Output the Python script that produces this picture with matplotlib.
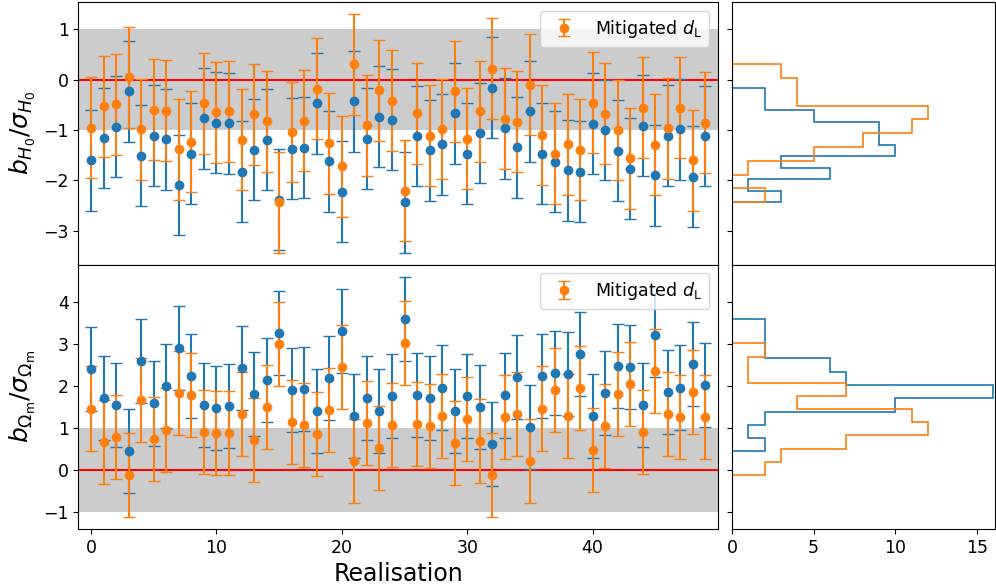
import numpy as np
import matplotlib
matplotlib.use("Agg")
import matplotlib.pyplot as plt

# Bias / sigma per realisation, standard and mitigated d_L
realisation = np.arange(50)

bias_h0_standard = [
    -1.60, -1.16, -0.94, -0.23, -1.51, -1.11, -1.18, -2.09, -1.47, -0.77,
    -0.86, -0.87, -1.83, -1.39, -1.19, -2.38, -1.37, -1.35, -0.47, -1.62,
    -2.22, -0.43, -1.17, -0.74, -0.80, -2.43, -1.12, -1.40, -1.28, -0.67,
    -1.47, -1.06, -0.16, -0.97, -1.34, -0.63, -1.47, -1.63, -1.80, -1.83,
    -0.88, -1.00, -1.41, -1.77, -0.92, -1.90, -1.11, -0.99, -1.93, -1.12,
]
bias_h0_mitigated = [
    -0.96, -0.53, -0.49, 0.04, -0.99, -0.60, -0.62, -1.38, -1.23, -0.47,
    -0.65, -0.63, -1.19, -0.69, -0.83, -2.43, -1.04, -0.82, -0.18, -1.26,
    -1.72, 0.30, -0.91, -0.21, -0.42, -2.20, -0.67, -1.11, -0.98, -0.23,
    -1.17, -0.63, 0.21, -0.78, -0.84, -0.10, -1.10, -1.47, -1.28, -1.39,
    -0.46, -0.68, -1.00, -1.56, -0.56, -1.29, -0.97, -0.56, -1.60, -0.86,
]

bias_om_standard = [
    2.41, 1.73, 1.55, 0.45, 2.61, 1.59, 2.01, 2.91, 2.25, 1.55,
    1.48, 1.52, 2.44, 1.81, 2.15, 3.26, 1.90, 1.93, 1.42, 2.20,
    3.31, 1.30, 1.73, 1.42, 1.77, 3.61, 1.79, 1.73, 1.97, 1.42,
    1.77, 1.50, 0.62, 1.78, 2.22, 1.03, 2.24, 2.32, 2.29, 2.77,
    1.30, 1.85, 2.48, 2.46, 1.56, 3.22, 1.87, 1.97, 2.53, 2.02,
]
bias_om_mitigated = [
    1.47, 0.68, 0.79, -0.11, 1.67, 0.75, 0.97, 1.85, 1.79, 0.92,
    0.88, 0.88, 1.34, 0.73, 1.50, 3.00, 1.16, 1.07, 0.87, 1.43,
    2.46, 0.23, 1.12, 0.54, 1.07, 3.02, 1.11, 1.05, 1.29, 0.66,
    1.21, 0.69, -0.11, 1.27, 1.34, 0.22, 1.47, 1.91, 1.30, 1.95,
    0.48, 1.05, 1.81, 2.06, 0.91, 2.36, 1.34, 1.27, 1.87, 1.26,
]

err = 1.0  # errors are in units of sigma

fs_tick = 12.5
plt.rcParams['font.size'] = fs_tick

fig = plt.figure(figsize=(9.96, 5.87), dpi=100)

L, R_main, L_hist, R_hist = 0.0788, 0.7209, 0.7349, 0.999
top, mid, bot = 0.9966, 0.5494, 0.0988

ax1 = fig.add_axes([L, mid, R_main - L, top - mid])
ax2 = fig.add_axes([L, bot, R_main - L, mid - bot], sharex=ax1)
ax1h = fig.add_axes([L_hist, mid, R_hist - L_hist, top - mid], sharey=ax1)
ax2h = fig.add_axes([L_hist, bot, R_hist - L_hist, mid - bot], sharey=ax2, sharex=ax1h)

panels = [
    (ax1, ax1h, bias_h0_standard, bias_h0_mitigated, r'$b_{H_0}/\sigma_{H_0}$'),
    (ax2, ax2h, bias_om_standard, bias_om_mitigated,
     r'$b_{\Omega_\mathrm{m}}/\sigma_{\Omega_\mathrm{m}}$'),
]

for ax, axh, std, mit, ylab in panels:
    ax.axhspan(-1, 1, color='grey', alpha=0.4, lw=0)
    ax.axhline(0, color='r', lw=1.5)
    ax.errorbar(realisation, std, yerr=err, fmt='o', color='C0', capsize=4.5)
    ax.errorbar(realisation, mit, yerr=err, fmt='o', color='C1', capsize=4.5,
                label=r'Mitigated $d_\mathrm{L}$')
    ax.set_ylabel(ylab, fontsize=18)
    ax.legend(loc='upper right', fontsize=fs_tick)

    axh.hist(std, bins=10, histtype='step', orientation='horizontal', color='C0', lw=1.2)
    axh.hist(mit, bins=10, histtype='step', orientation='horizontal', color='C1', lw=1.2)
    axh.tick_params(labelleft=False)

ax1.set_xlim(-1, 50)
ax1.tick_params(bottom=False, labelbottom=False)
ax1h.tick_params(bottom=False, labelbottom=False)
ax2.set_xlabel('Realisation', fontsize=17)
ax2.set_xticks([0, 10, 20, 30, 40])
ax2h.set_xlim(0, 16.1)
ax2h.set_xticks([0, 5, 10, 15])

fig.savefig('out.png', dpi=100)
